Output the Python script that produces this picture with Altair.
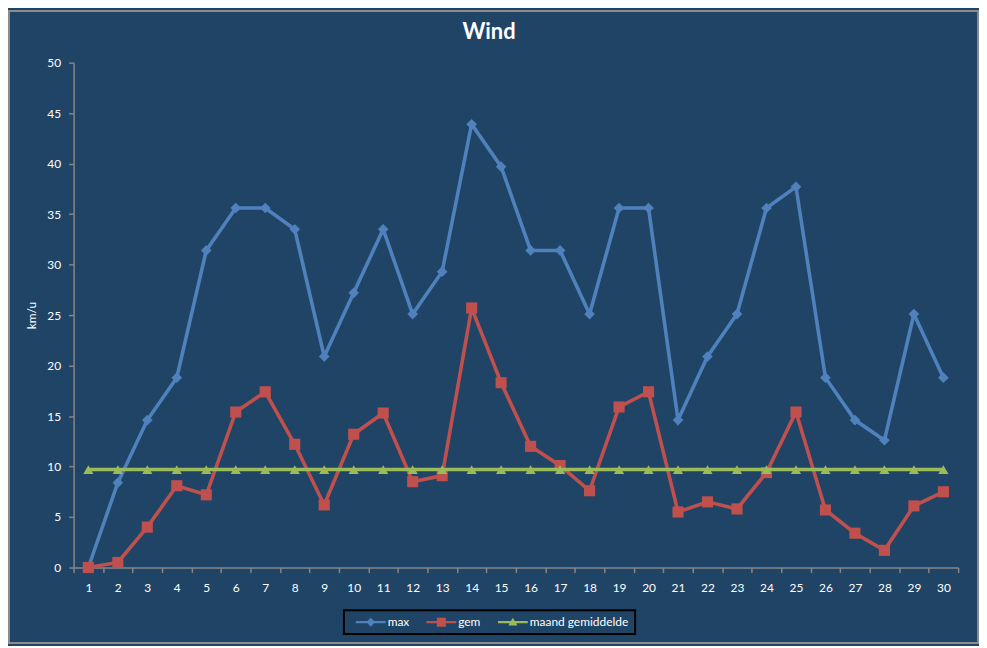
import altair as alt
import pandas as pd

# dagen van de maand
dagen = [1, 2, 3, 4, 5, 6, 7, 8, 9, 10, 11, 12, 13, 14, 15,
         16, 17, 18, 19, 20, 21, 22, 23, 24, 25, 26, 27, 28, 29, 30]

# km/u
max_wind = [0.0, 8.4, 14.6, 18.8, 31.4, 35.6, 35.6, 33.5, 20.9, 27.2,
            33.5, 25.1, 29.3, 43.9, 39.7, 31.4, 31.4, 25.1, 35.6, 35.6,
            14.6, 20.9, 25.1, 35.6, 37.7, 18.8, 14.6, 12.6, 25.1, 18.8]
gem_wind = [0.0, 0.5, 4.0, 8.1, 7.2, 15.4, 17.4, 12.2, 6.2, 13.2,
            15.3, 8.5, 9.1, 25.7, 18.3, 12.0, 10.1, 7.6, 15.9, 17.4,
            5.5, 6.5, 5.8, 9.4, 15.4, 5.7, 3.4, 1.7, 6.1, 7.5]
maand_gem = [9.7, 9.7, 9.7, 9.7, 9.7, 9.7, 9.7, 9.7, 9.7, 9.7,
             9.7, 9.7, 9.7, 9.7, 9.7, 9.7, 9.7, 9.7, 9.7, 9.7,
             9.7, 9.7, 9.7, 9.7, 9.7, 9.7, 9.7, 9.7, 9.7, 9.7]

y_ticks = [0, 5, 10, 15, 20, 25, 30, 35, 40, 45, 50]

reeksen = ["max", "gem", "maand gemiddelde"]
kleuren = ["#4F81BD", "#C0504D", "#9BBB59"]
markers = ["diamond", "square", "triangle-up"]
marker_sizes = [115, 125, 105]

# legend symbols: line with marker in the middle (unit = sqrt(size)/2)
legend_paths = [
    "M0,-0.2L1.95,-0.2L2.5,-0.75L3.05,-0.2L5,-0.2L5,0.2L3.05,0.2L2.5,0.75L1.95,0.2L0,0.2Z",
    "M0,-0.2L1.75,-0.2L1.75,-0.75L3.25,-0.75L3.25,-0.2L5,-0.2L5,0.2L3.25,0.2L3.25,0.75L1.75,0.75L1.75,0.2L0,0.2Z",
    "M0,-0.2L2.18,-0.2L2.5,-0.75L2.82,-0.2L5,-0.2L5,0.2L3.05,0.2L3.25,0.55L1.75,0.55L1.95,0.2L0,0.2Z",
]

rows = []
for reeks, waarden in zip(reeksen, [max_wind, gem_wind, maand_gem]):
    for dag, w in zip(dagen, waarden):
        rows.append({"dag": dag, "kmu": w, "reeks": reeks})
df = pd.DataFrame(rows)

BG = "#1F4466"
AXIS_GREY = "#868686"
FONT = "Lato"

# a little extra room after the last label, like the Excel legend box
label_expr = "datum.label == 'maand gemiddelde' ? datum.label + '\u00a0\u00a0\u00a0\u00a0\u00a0\u00a0' : datum.label"

legend_def = alt.Legend(
    title=None, orient="none", legendX=272, legendY=551, direction="horizontal",
    symbolSize=144, symbolOpacity=1, symbolStrokeWidth=0,
    labelColor="white", labelFont=FONT, labelFontSize=12, labelOffset=26,
    labelExpr=label_expr,
    columnPadding=11, padding=6, strokeColor="black", fillColor=BG,
)

x_enc = alt.X("dag:O", scale=alt.Scale(paddingInner=0, paddingOuter=0),
              axis=alt.Axis(title=None, labelAngle=0, tickBand="extent",
                            domainColor=AXIS_GREY, tickColor=AXIS_GREY,
                            domainWidth=1.5, tickWidth=1.5, tickSize=5,
                            labelColor="white", labelFont=FONT, labelFontSize=12,
                            labelPadding=10, grid=False))
y_enc = alt.Y("kmu:Q", scale=alt.Scale(domain=[0, 50], nice=False),
              axis=alt.Axis(values=y_ticks, title="km/u", grid=False,
                            domainColor=AXIS_GREY, tickColor=AXIS_GREY,
                            domainWidth=1.5, tickWidth=1.5, tickSize=5,
                            labelColor="white", labelFont=FONT, labelFontSize=12,
                            labelPadding=8, titleColor="white", titleFont=FONT,
                            titleFontSize=12, titleFontWeight="normal",
                            titleAngle=-90, titleX=-42, titleY=254,
                            titleAlign="center", titleBaseline="middle"))
color_enc = alt.Color("reeks:N", scale=alt.Scale(domain=reeksen, range=kleuren),
                      legend=legend_def)

frame = alt.Chart(pd.DataFrame({"k": [0]})).mark_rect(
    fillOpacity=0, stroke="#8C8C8C", strokeWidth=2
).encode(x=alt.value(-65), x2=alt.value(910), y=alt.value(-52), y2=alt.value(584))

layers = [frame]
for reeks, shape, size in zip(reeksen, markers, marker_sizes):
    base = alt.Chart(df).transform_filter(alt.datum.reeks == reeks)
    layers.append(base.mark_line(strokeWidth=3.6).encode(x=x_enc, y=y_enc, color=color_enc))
    layers.append(base.mark_point(filled=True, shape=shape, size=size, opacity=1)
                  .encode(x=x_enc, y=y_enc, color=color_enc))

legend_layer = alt.Chart(df).mark_point(filled=True, opacity=0).encode(
    x=x_enc, y=y_enc, color=color_enc,
    shape=alt.Shape("reeks:N", scale=alt.Scale(domain=reeksen, range=legend_paths),
                    legend=legend_def),
)
layers.append(legend_layer)

# the frame widens the group bounds, so the title is pushed back down with dy
chart = alt.layer(*layers).properties(
    width=890, height=508,
    title=alt.Title("Wind", color="white", fontSize=22, font=FONT, fontWeight="bold",
                    anchor="middle", frame="group", dx=-27, offset=0, dy=51,
                    baseline="alphabetic"),
    autosize=alt.AutoSizeParams(type="none"),
    padding={"left": 66, "top": 53, "right": 21, "bottom": 77},
    background=BG,
).configure_view(strokeWidth=0).configure_legend(strokeWidth=2)

chart.save("out.html", embed_options={"renderer": "svg", "actions": False})
